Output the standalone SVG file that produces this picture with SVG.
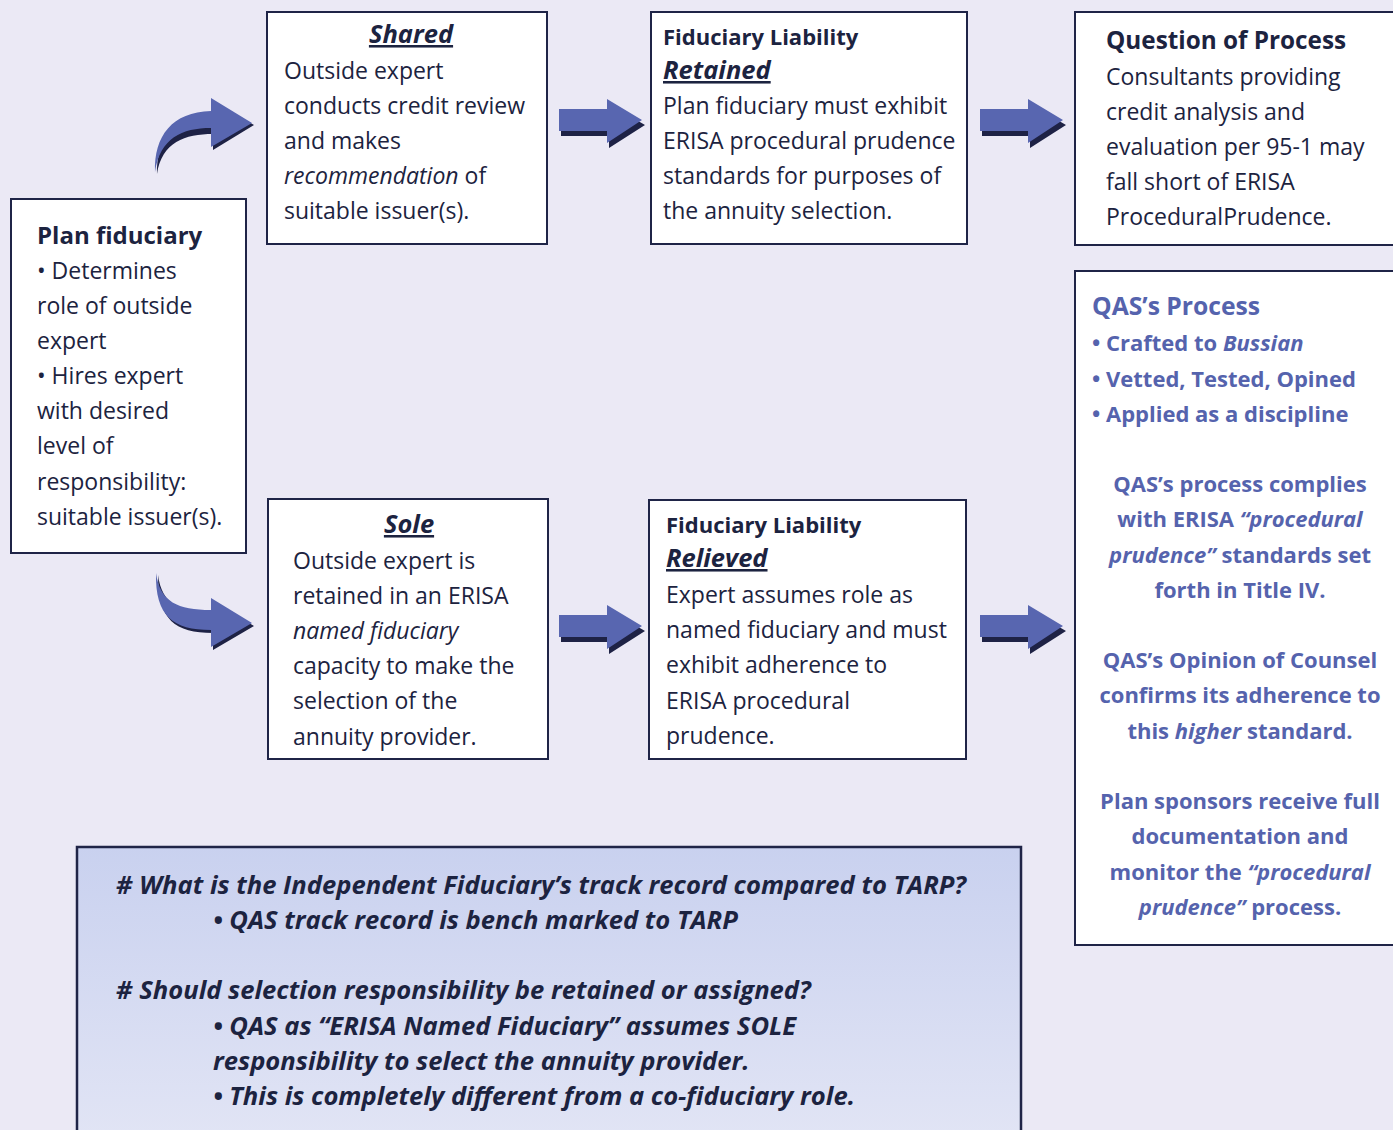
<svg xmlns="http://www.w3.org/2000/svg" width="1393" height="1130" viewBox="0 0 1393 1130">
<defs>
<style>
.box{fill:#ffffff;stroke:#1f2447;stroke-width:2}
text{font-family:"Open Sans","Noto Sans",sans-serif;fill:#1c2340;font-size:23px}
.t{font-weight:bold;font-size:22px}
.u{font-weight:bold;font-style:italic;text-decoration:underline;font-size:25.5px}
.bl{fill:#5563ad;font-weight:bold;font-size:22px}
.q{font-weight:bold;font-style:italic;font-size:25.6px}
.ar{fill:#5866b0}
.sh{fill:#1e2245}
</style>
<linearGradient id="g" x1="0" y1="0" x2="0" y2="1">
<stop offset="0" stop-color="#c9d1ef"/>
<stop offset="1" stop-color="#e2e5f5"/>
</linearGradient>
<g id="sa">
<path class="sh" d="M0,11 H48 V1 L84,22 L48,45 V33 H0 Z" transform="translate(2,3)"/>
<path class="ar" d="M0,9 H48 V-1 L83,20 L48,43 V31 H0 Z"/>
</g>
</defs>
<rect width="1393" height="1130" fill="#ebe9f5"/>

<g id="connectors">
<g id="curve-up">
<path class="sh" d="M157,174 C156,140 175,115 213,114 V101 L254,125 L213,150 V134 C185,134 162,142 157,174 Z"/>
<path class="ar" d="M155,172 C154,136 172,112 211,111 V98 L252,123 L211,147 V128 C182,128 160,138 155,172 Z"/>
</g>
<g id="curve-down">
<path class="sh" d="M158,575 C162,605 180,612 213,613 V601 L254,626 L213,650 V633 C175,633 158,620 158,575 Z"/>
<path class="ar" d="M156,573 C160,602 178,610 211,610 V598 L252,623 L211,647 V630 C173,630 155,616 156,573 Z"/>
</g>
<use href="#sa" x="559" y="100"/>
<use href="#sa" x="980" y="100"/>
<use href="#sa" x="559" y="606"/>
<use href="#sa" x="980" y="606"/>
</g>

<g id="plan">
<rect class="box" x="11" y="199" width="235" height="354"/>
<text class="t" x="37" y="244" style="font-size:24px">Plan fiduciary</text>
<text x="37" y="279">• Determines</text>
<text x="37" y="314">role of outside</text>
<text x="37" y="349">expert</text>
<text x="37" y="384">• Hires expert</text>
<text x="37" y="419">with desired</text>
<text x="37" y="454">level of</text>
<text x="37" y="490">responsibility:</text>
<text x="37" y="525">suitable issuer(s).</text>
</g>

<g id="shared">
<rect class="box" x="267" y="12" width="280" height="232"/>
<text class="u" x="411" y="43" text-anchor="middle">Shared</text>
<text x="284" y="79">Outside expert</text>
<text x="284" y="114">conducts credit review</text>
<text x="284" y="149">and makes</text>
<text x="284" y="184"><tspan font-style="italic">recommendation</tspan> of</text>
<text x="284" y="219">suitable issuer(s).</text>
</g>

<g id="retained">
<rect class="box" x="651" y="12" width="316" height="232"/>
<text class="t" x="663" y="45">Fiduciary Liability</text>
<text class="u" x="663" y="79">Retained</text>
<text x="663" y="114">Plan fiduciary must exhibit</text>
<text x="663" y="149">ERISA procedural prudence</text>
<text x="663" y="184">standards for purposes of</text>
<text x="663" y="219">the annuity selection.</text>
</g>

<g id="question">
<rect class="box" x="1075" y="12" width="330" height="233"/>
<text class="t" x="1106" y="49" style="font-size:24.3px">Question of Process</text>
<text x="1106" y="85">Consultants providing</text>
<text x="1106" y="120">credit analysis and</text>
<text x="1106" y="155">evaluation per 95-1 may</text>
<text x="1106" y="190">fall short of ERISA</text>
<text x="1106" y="225">ProceduralPrudence.</text>
</g>

<g id="qas">
<rect class="box" x="1075" y="271" width="330" height="674"/>
<text class="bl" x="1092" y="315" style="font-size:24.7px">QAS’s Process</text>
<text class="bl" x="1092" y="351">• Crafted to <tspan font-style="italic">Bussian</tspan></text>
<text class="bl" x="1092" y="387">• Vetted, Tested, Opined</text>
<text class="bl" x="1092" y="422">• Applied as a discipline</text>
<g text-anchor="middle">
<text class="bl" x="1240" y="492">QAS’s process complies</text>
<text class="bl" x="1240" y="527">with ERISA <tspan font-style="italic">“procedural</tspan></text>
<text class="bl" x="1240" y="563"><tspan font-style="italic">prudence”</tspan> standards set</text>
<text class="bl" x="1240" y="598">forth in Title IV.</text>
<text class="bl" x="1240" y="668">QAS’s Opinion of Counsel</text>
<text class="bl" x="1240" y="703">confirms its adherence to</text>
<text class="bl" x="1240" y="739">this <tspan font-style="italic">higher</tspan> standard.</text>
<text class="bl" x="1240" y="809">Plan sponsors receive full</text>
<text class="bl" x="1240" y="844">documentation and</text>
<text class="bl" x="1240" y="880">monitor the <tspan font-style="italic">“procedural</tspan></text>
<text class="bl" x="1240" y="915"><tspan font-style="italic">prudence”</tspan> process.</text>
</g>
</g>

<g id="sole">
<rect class="box" x="268" y="499" width="280" height="260"/>
<text class="u" x="409" y="533" text-anchor="middle">Sole</text>
<text x="293" y="569">Outside expert is</text>
<text x="293" y="604">retained in an ERISA</text>
<text x="293" y="639" font-style="italic">named fiduciary</text>
<text x="293" y="674">capacity to make the</text>
<text x="293" y="709">selection of the</text>
<text x="293" y="745">annuity provider.</text>
</g>

<g id="relieved">
<rect class="box" x="649" y="500" width="317" height="259"/>
<text class="t" x="666" y="533">Fiduciary Liability</text>
<text class="u" x="666" y="567">Relieved</text>
<text x="666" y="603">Expert assumes role as</text>
<text x="666" y="638">named fiduciary and must</text>
<text x="666" y="673">exhibit adherence to</text>
<text x="666" y="709">ERISA procedural</text>
<text x="666" y="744">prudence.</text>
</g>

<g id="questions">
<rect x="77" y="847" width="944" height="300" fill="url(#g)" stroke="#1f2447" stroke-width="2.5"/>
<text class="q" x="116" y="894"># What is the Independent Fiduciary’s track record compared to TARP?</text>
<text class="q" x="213" y="929">• QAS track record is bench marked to TARP</text>
<text class="q" x="116" y="999"># Should selection responsibility be retained or assigned?</text>
<text class="q" x="213" y="1035">• QAS as “ERISA Named Fiduciary” assumes SOLE</text>
<text class="q" x="213" y="1070">responsibility to select the annuity provider.</text>
<text class="q" x="213" y="1105">• This is completely different from a co-fiduciary role.</text>
</g>
</svg>
